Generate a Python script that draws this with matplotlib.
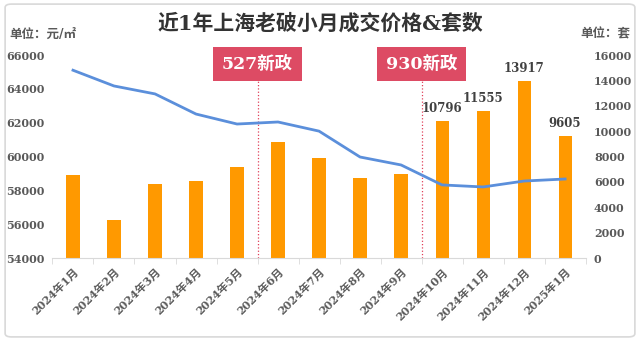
import matplotlib.pyplot as plt
import matplotlib.transforms as mtransforms
from matplotlib.patches import FancyBboxPatch
import numpy as np

plt.rcParams['font.family'] = ['DejaVu Serif', 'Noto Sans CJK SC']

months = ['2024年1月', '2024年2月', '2024年3月', '2024年4月', '2024年5月', '2024年6月',
          '2024年7月', '2024年8月', '2024年9月', '2024年10月', '2024年11月', '2024年12月',
          '2025年1月']
deals = [6550, 3000, 5830, 6070, 7170, 9140, 7880, 6300, 6620, 10796, 11555, 13917, 9605]
price = [65100, 64170, 63700, 62510, 61920, 62040, 61500, 59970, 59500, 58320, 58200, 58550, 58670]
labeled = [10796, 11555, 13917, 9605]
policies = ['527新政', '930新政']
policy_pos = [4.5, 8.5]

gray = '#595959'
fig = plt.figure(figsize=(6.4, 3.41), dpi=100)
fig.patches.append(FancyBboxPatch((0.008, 0.012), 0.984, 0.976, boxstyle='round,pad=0,rounding_size=0.01',
                                  transform=fig.transFigure, fc='none', ec='#d9d9d9', lw=1.2))

ax2 = fig.add_axes([0.082, 0.2434, 0.833, 0.5953])
ax = ax2.twinx()
x = np.arange(len(months))

ax2.bar(x, deals, width=0.32, color='#FF9900', zorder=2)
for i, v in enumerate(deals):
    if v in labeled:
        ax2.text(i, v + 500, str(v), ha='center', va='bottom', fontsize=8.5, fontweight='bold', color='#404040')
ax2.set_ylim(0, 16000)
ax2.set_yticks(range(0, 16001, 2000))
ax2.yaxis.tick_right()
ax2.yaxis.set_label_position('right')

ax.plot(x, price, color='#5B8FDB', lw=2, zorder=3)
ax.set_ylim(54000, 66000)
ax.set_yticks(range(54000, 66001, 2000))
ax.yaxis.tick_left()
ax.set_xlim(-0.5, len(months) - 0.5)

for a in (ax, ax2):
    for s in a.spines.values():
        s.set_visible(False)
    a.tick_params(axis='y', length=0, labelsize=8, labelcolor=gray, pad=6)
    for t in a.get_yticklabels():
        t.set_fontweight('bold')

ax2.spines['bottom'].set_visible(True)
ax2.spines['bottom'].set_color('#d9d9d9')
ax2.set_xticks(x)
ax2.set_xticklabels(months, rotation=45, ha='right', rotation_mode='anchor',
                    fontsize=8, fontweight='bold', color=gray)
ax2.set_xticks(np.arange(-0.5, len(months)), minor=True)
ax2.tick_params(axis='x', which='major', length=0, pad=6)
ax2.tick_params(axis='x', which='minor', length=4, color='#d9d9d9')

trans = mtransforms.blended_transform_factory(ax2.transData, ax2.transAxes)
for name, p in zip(policies, policy_pos):
    ax2.plot([p, p], [0, 0.88], transform=trans, color='#E0405A', lw=0.9, ls=':', zorder=4)
    ax2.text(p, 0.955, name, transform=trans, ha='center', va='center', fontsize=12.5,
             fontweight='bold', color='white', zorder=5,
             bbox=dict(boxstyle='square,pad=0.5', fc='#DD4B64', ec='none'))

fig.text(0.5, 0.932, '近1年上海老破小月成交价格&套数', ha='center', va='center',
         fontsize=15, fontweight='bold', color='#333333')
fig.text(0.014, 0.9, '单位：元/㎡', ha='left', va='center', fontsize=9, fontweight='bold', color=gray)
fig.text(0.985, 0.9, '单位：套', ha='right', va='center', fontsize=9, fontweight='bold', color=gray)

fig.savefig('out.png', dpi=100)
